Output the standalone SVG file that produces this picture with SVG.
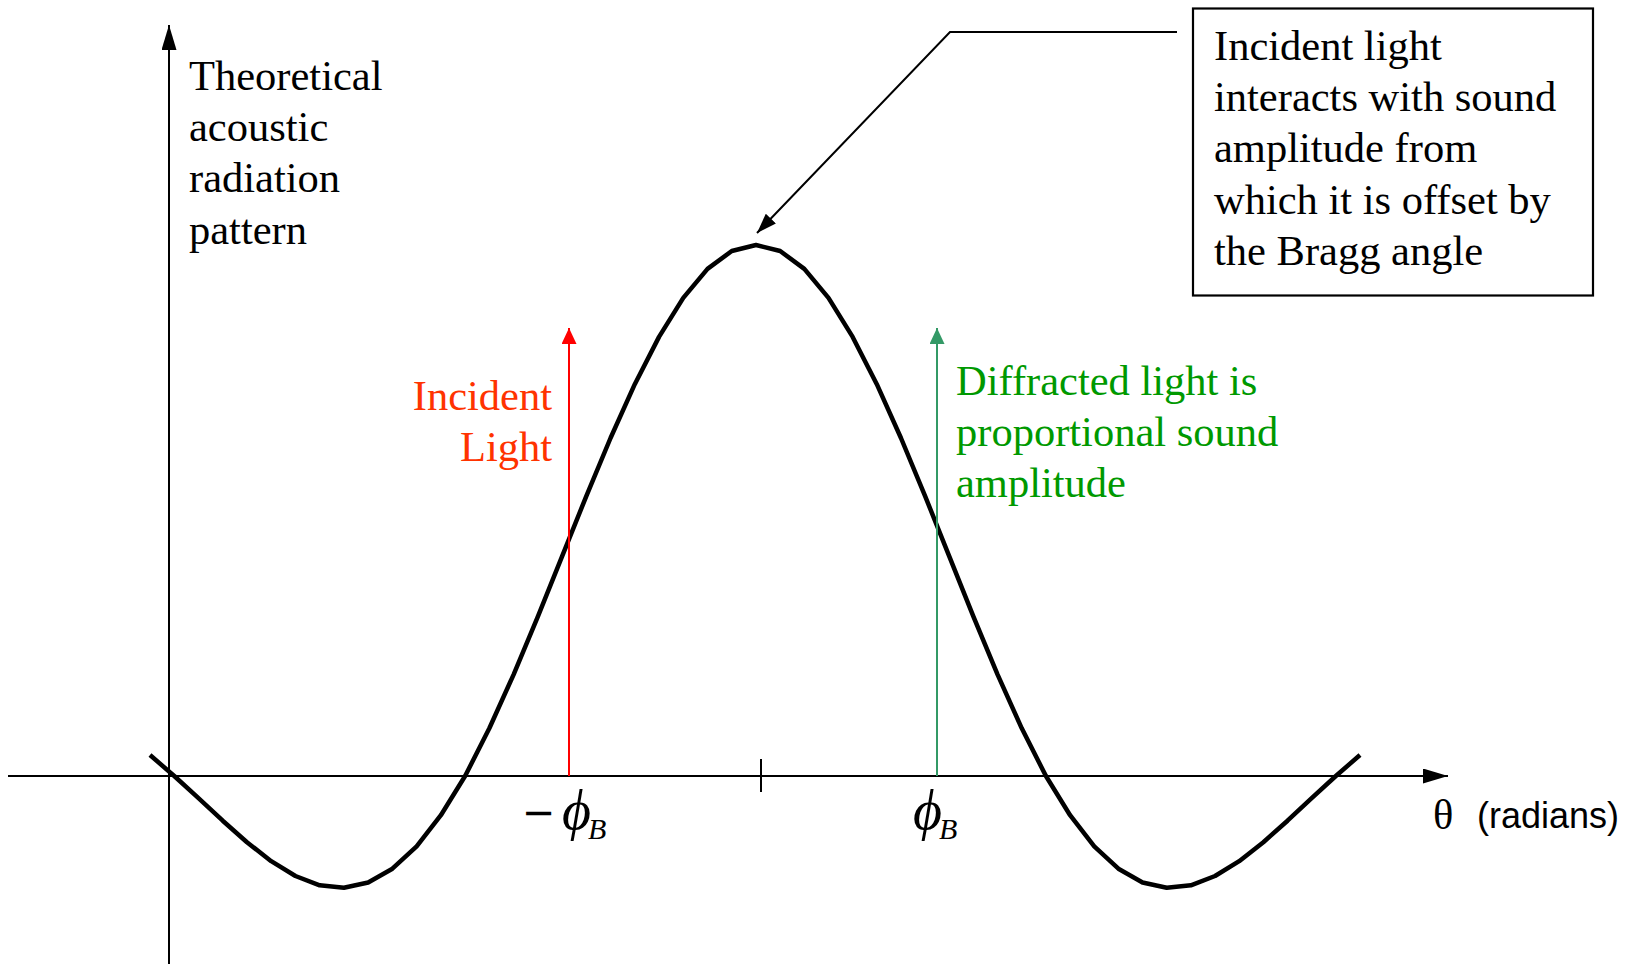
<svg xmlns="http://www.w3.org/2000/svg" width="1631" height="964" viewBox="0 0 1631 964">
<style>
.t{font-family:"Liberation Serif","Times New Roman",serif;font-size:42.5px;fill:#000}
.red{fill:#FF3300}
.grn{fill:#009900}
.ax{stroke:#000;stroke-width:2;fill:none}
.sym{font-family:"Liberation Serif","DejaVu Serif",serif;font-style:italic;fill:#000}
.ar{font-family:"Liberation Sans",Arial,sans-serif;font-size:36px;fill:#000}
.minus{font-family:"DejaVu Sans",sans-serif;font-size:40px;fill:#000}
</style>
<defs>
<marker id="axhead" markerUnits="userSpaceOnUse" markerWidth="25" markerHeight="15" refX="25" refY="7.5" orient="auto" viewBox="0 0 25 15">
<path d="M0,0 L25,7.5 L0,15 z" fill="#000"/>
</marker>
<marker id="redhead" markerUnits="userSpaceOnUse" markerWidth="16" markerHeight="15" refX="16" refY="7.5" orient="auto" viewBox="0 0 16 15">
<path d="M0,0 L16,7.5 L0,15 z" fill="#FF0000"/>
</marker>
<marker id="grnhead" markerUnits="userSpaceOnUse" markerWidth="16" markerHeight="15" refX="16" refY="7.5" orient="auto" viewBox="0 0 16 15">
<path d="M0,0 L16,7.5 L0,15 z" fill="#339966"/>
</marker>
<marker id="leadhead" markerUnits="userSpaceOnUse" markerWidth="20" markerHeight="14" refX="20" refY="7" orient="auto" viewBox="0 0 20 14">
<path d="M0,0 L20,7 L0,14 z" fill="#000"/>
</marker>
</defs>
<rect width="1631" height="964" fill="#fff"/>

<g id="axes">
<line class="ax" x1="169" y1="964" x2="169" y2="25" marker-end="url(#axhead)"/>
<line class="ax" x1="8" y1="776" x2="1448" y2="776" marker-end="url(#axhead)"/>
<line class="ax" x1="761" y1="759" x2="761" y2="792"/>
</g>

<g id="curve">
<polyline fill="none" stroke="#000" stroke-width="4.5" stroke-linejoin="round" points="150,755 174.24,776 198.48,798.1 222.72,820.7 246.96,842.2 271.2,861.2 295.44,876 319.68,885.3 343.92,887.8 368.16,882.5 392.4,868.7 416.64,846.3 440.88,815.2 465.12,776 489.36,728.3 513.6,674.6 537.84,616.6 562.08,556.4 586.32,496.1 610.56,438 634.8,384.2 659.04,336.9 683.28,297.9 707.52,268.9 731.76,251 756,245 780.16,251 804.32,268.9 828.48,297.9 852.64,336.9 876.8,384.2 900.96,438 925.12,496.1 949.28,556.4 973.44,616.6 997.6,674.6 1021.76,728.3 1045.92,776 1070.08,815.2 1094.24,846.3 1118.4,868.7 1142.56,882.5 1166.72,887.8 1190.88,885.3 1215.04,876 1239.2,861.2 1263.36,842.2 1287.52,820.7 1311.68,798.1 1335.84,776 1360,755"/>
</g>

<g id="connectors">
<polyline fill="none" stroke="#000" stroke-width="2" points="1177,32 950,32 757,233" marker-end="url(#leadhead)"/>
<line x1="569" y1="776" x2="569" y2="328" stroke="#FF0000" stroke-width="2" marker-end="url(#redhead)"/>
<line x1="937" y1="776" x2="937" y2="328" stroke="#339966" stroke-width="2" marker-end="url(#grnhead)"/>
</g>

<g id="y-label">
<text class="t" x="189" y="90">Theoretical</text>
<text class="t" x="189" y="141.2">acoustic</text>
<text class="t" x="189" y="192.4">radiation</text>
<text class="t" x="189" y="243.6">pattern</text>
</g>

<g id="callout">
<rect x="1193" y="8.5" width="400" height="287" fill="#fff" stroke="#000" stroke-width="2.2"/>
<text class="t" x="1214" y="60">Incident light</text>
<text class="t" x="1214" y="111.2">interacts with sound</text>
<text class="t" x="1214" y="162.4">amplitude from</text>
<text class="t" x="1214" y="213.6">which it is offset by</text>
<text class="t" x="1214" y="264.8">the Bragg angle</text>
</g>

<g id="incident-label">
<text class="t red" x="552" y="410" text-anchor="end">Incident</text>
<text class="t red" x="552" y="461" text-anchor="end">Light</text>
</g>

<g id="diffracted-label">
<text class="t grn" x="956" y="395">Diffracted light is</text>
<text class="t grn" x="956" y="446">proportional sound</text>
<text class="t grn" x="956" y="497">amplitude</text>
</g>

<g id="tick-labels">
<text class="minus" x="522" y="826">−</text>
<text class="sym" x="562" y="829" font-size="56">ϕ</text>
<text class="sym" x="588" y="839" font-size="30">B</text>
<text class="sym" x="913" y="829" font-size="56">ϕ</text>
<text class="sym" x="939" y="839" font-size="30">B</text>
</g>

<g id="x-label">
<text class="t" x="1433" y="829" font-size="40">θ</text>
<text class="ar" x="1477" y="828">(radians)</text>
</g>
</svg>
